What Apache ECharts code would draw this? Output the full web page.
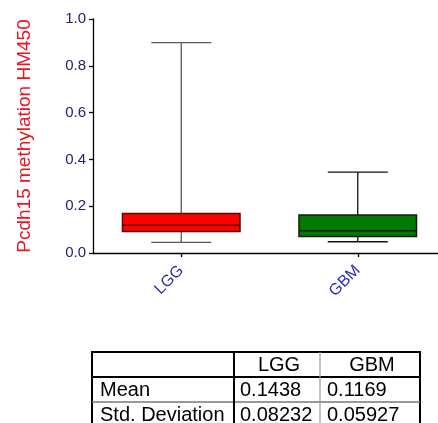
<!DOCTYPE html>
<html>
<head>
<meta charset="utf-8">
<script src="https://cdn.jsdelivr.net/npm/echarts@6/dist/echarts.min.js"></script>
<style>html,body{margin:0;padding:0;background:#fff;overflow:hidden}#c{width:446px;height:423px}</style>
</head>
<body>
<div id="c"></div>
<script>
var categories = ['LGG', 'GBM'];
var whiskerLow = [0.045, 0.048];
var q1 = [0.092, 0.071];
var median = [0.119, 0.095];
var q3 = [0.169, 0.162];
var whiskerHigh = [0.899, 0.346];
var yTicks = ['0.0', '0.2', '0.4', '0.6', '0.8', '1.0'];
var tableCols = ['LGG', 'GBM'];
var tableRows = ['Mean', 'Std. Deviation'];
var meanVals = ['0.1438', '0.1169'];
var sdVals = ['0.08232', '0.05927'];

var fills = ['#ff0000', '#007a00'];
var borders = ['#5a0a0a', '#1a1a1a'];
var whiskerColors = ['#5a5a5a', '#111111'];

var data = categories.map(function (c, i) {
  return [i, whiskerLow[i], q1[i], median[i], q3[i], whiskerHigh[i]];
});

function renderItem(params, api) {
  var idx = api.value(0);
  var lo = api.coord([idx, api.value(1)]);
  var b1 = api.coord([idx, api.value(2)]);
  var md = api.coord([idx, api.value(3)]);
  var b3 = api.coord([idx, api.value(4)]);
  var hi = api.coord([idx, api.value(5)]);
  var band = api.size([1, 0])[0];
  var boxW = band * 0.666;
  var capW = band * 0.34;
  var x = lo[0];
  var wc = whiskerColors[idx];
  return {
    type: 'group',
    children: [
      {type: 'line', shape: {x1: x, y1: hi[1], x2: x, y2: lo[1]}, style: {stroke: wc, lineWidth: 1.3}},
      {type: 'line', shape: {x1: x - capW / 2, y1: hi[1], x2: x + capW / 2, y2: hi[1]}, style: {stroke: wc, lineWidth: 1.3}},
      {type: 'line', shape: {x1: x - capW / 2, y1: lo[1], x2: x + capW / 2, y2: lo[1]}, style: {stroke: wc, lineWidth: 1.3}},
      {type: 'rect', shape: {x: x - boxW / 2, y: b3[1], width: boxW, height: b1[1] - b3[1]}, style: {fill: fills[idx], stroke: borders[idx], lineWidth: 1.5}},
      {type: 'line', shape: {x1: x - boxW / 2, y1: md[1], x2: x + boxW / 2, y2: md[1]}, style: {stroke: borders[idx], lineWidth: 1.5}}
    ]
  };
}

var TL = 92, TR = 420, TT = 352, RH = 25, C1 = 234, C2 = 320;
var font = '20px "Liberation Sans", Arial, sans-serif';
var graphics = [];
graphics.push({type: 'rect', shape: {x: TL, y: TT, width: TR - TL, height: RH * 3}, style: {fill: 'none', stroke: '#000', lineWidth: 2}});
graphics.push({type: 'line', shape: {x1: TL, y1: TT + RH, x2: TR, y2: TT + RH}, style: {stroke: '#000', lineWidth: 2}});
graphics.push({type: 'line', shape: {x1: TL, y1: TT + 2 * RH, x2: TR, y2: TT + 2 * RH}, style: {stroke: '#777', lineWidth: 1.5}});
graphics.push({type: 'line', shape: {x1: C1, y1: TT, x2: C1, y2: TT + 3 * RH}, style: {stroke: '#000', lineWidth: 2}});
graphics.push({type: 'line', shape: {x1: C2, y1: TT, x2: C2, y2: TT + 3 * RH}, style: {stroke: '#999', lineWidth: 1.2}});
var colCenters = [(C1 + C2) / 2 + 2, (C2 + TR) / 2 + 2];
var colLefts = [C1 + 6, C2 + 7];
tableCols.forEach(function (t, i) {
  graphics.push({type: 'text', x: colCenters[i], y: TT + RH / 2 + 1, style: {text: t, font: font, fill: '#000', textAlign: 'center', textVerticalAlign: 'middle'}});
});
var rowVals = [meanVals, sdVals];
tableRows.forEach(function (r, j) {
  var yc = TT + RH * (j + 1) + RH / 2 + 1;
  graphics.push({type: 'text', x: TL + 8, y: yc, style: {text: r, font: font, fill: '#000', textAlign: 'left', textVerticalAlign: 'middle'}});
  rowVals[j].forEach(function (v, i) {
    graphics.push({type: 'text', x: colLefts[i], y: yc, style: {text: v, font: font, fill: '#000', textAlign: 'left', textVerticalAlign: 'middle'}});
  });
});

var chart = echarts.init(document.getElementById('c'), null, {renderer: 'canvas'});
chart.setOption({
  backgroundColor: '#fff',
  animation: false,
  grid: {left: 93, right: 0, top: 19, height: 234, containLabel: false},
  xAxis: {
    type: 'category',
    data: categories,
    boundaryGap: true,
    axisLine: {show: true, lineStyle: {color: '#000', width: 1.3}},
    axisTick: {show: true, alignWithLabel: true, length: 4, lineStyle: {color: '#000', width: 1.3}},
    axisLabel: {rotate: 45, margin: 15, color: '#2a2ab0', fontSize: 16, fontFamily: '"Liberation Sans", Arial, sans-serif'},
    splitLine: {show: false}
  },
  yAxis: {
    type: 'value',
    min: 0, max: 1, interval: 0.2,
    name: 'Pcdh15 methylation HM450',
    nameLocation: 'middle',
    nameRotate: 90,
    nameGap: 59,
    nameTextStyle: {color: '#e8141e', fontSize: 19, fontFamily: '"Liberation Sans", Arial, sans-serif'},
    axisLine: {show: true, lineStyle: {color: '#000', width: 1.3}},
    axisTick: {show: true, length: 4, lineStyle: {color: '#000', width: 1.3}},
    axisLabel: {margin: 7, color: '#22226e', fontSize: 15, fontFamily: '"Liberation Sans", Arial, sans-serif',
      formatter: function (v) { return yTicks[Math.round(v / 0.2)]; }},
    splitLine: {show: false}
  },
  series: [{
    type: 'custom',
    renderItem: renderItem,
    data: data,
    encode: {x: 0, y: [1, 2, 3, 4, 5]}
  }],
  graphic: graphics
});
</script>
</body>
</html>
